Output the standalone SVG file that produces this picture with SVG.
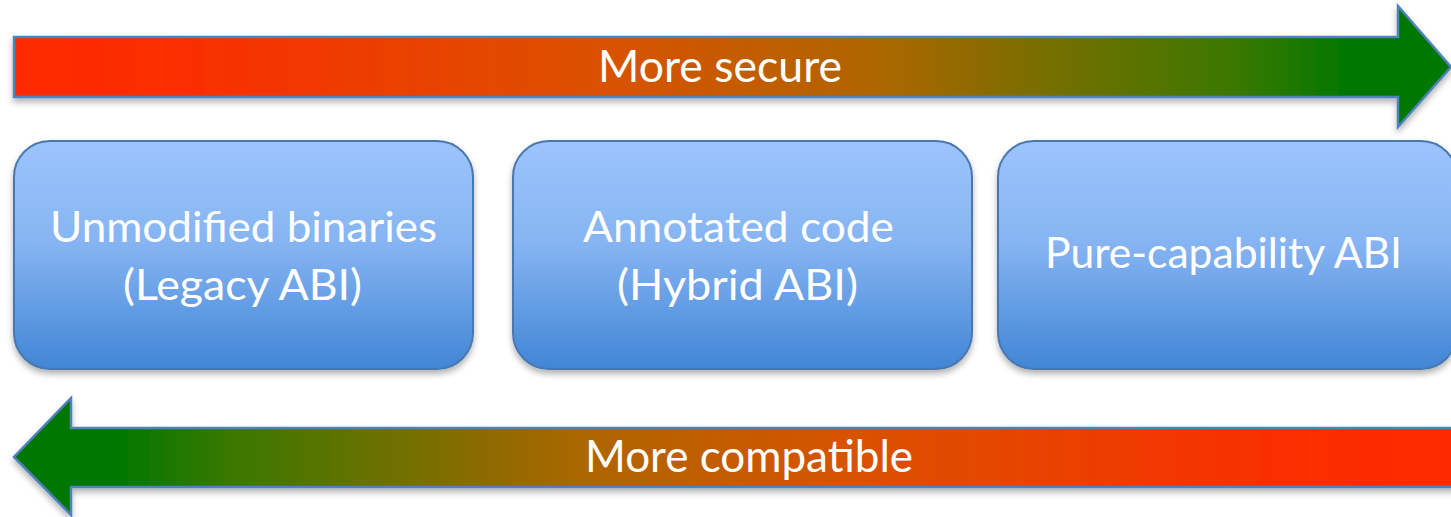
<svg xmlns="http://www.w3.org/2000/svg" width="1451" height="517" viewBox="0 0 1451 517">
<style>
.lbl{font-family:Lato,"Open Sans","Liberation Sans",sans-serif;fill:#ffffff;text-anchor:middle}
.big{font-size:44px}
.box{font-size:42px}
.arrow{stroke:#4F81BD;stroke-width:2.5;stroke-linejoin:miter}
.node rect{fill:url(#boxg);stroke:#4A78B0;stroke-width:2}
</style>
<defs>
<linearGradient id="secg" x1="14" y1="0" x2="1451" y2="0" gradientUnits="userSpaceOnUse">
<stop offset="0" stop-color="#FF2A00"/>
<stop offset="0.12" stop-color="#FA2E00"/>
<stop offset="0.4" stop-color="#DC5000"/>
<stop offset="0.6" stop-color="#AE6600"/>
<stop offset="0.85" stop-color="#3A7800"/>
<stop offset="0.93" stop-color="#007800"/>
<stop offset="1" stop-color="#007800"/>
</linearGradient>
<linearGradient id="compg" x1="1451" y1="0" x2="14" y2="0" gradientUnits="userSpaceOnUse">
<stop offset="0" stop-color="#FF2A00"/>
<stop offset="0.12" stop-color="#FA2E00"/>
<stop offset="0.4" stop-color="#DC5000"/>
<stop offset="0.6" stop-color="#AE6600"/>
<stop offset="0.85" stop-color="#3A7800"/>
<stop offset="0.93" stop-color="#007800"/>
<stop offset="1" stop-color="#007800"/>
</linearGradient>
<linearGradient id="boxg" x1="0" y1="0" x2="0" y2="1">
<stop offset="0" stop-color="#9CC4FC"/>
<stop offset="0.45" stop-color="#86B4F2"/>
<stop offset="1" stop-color="#4186D6"/>
</linearGradient>
<filter id="sh" x="-5%" y="-20%" width="110%" height="150%">
<feDropShadow dx="0" dy="4" stdDeviation="3" flood-color="#000000" flood-opacity="0.3"/>
</filter>
</defs>
<g id="connectors">
<g id="arrow-secure">
<polygon class="arrow" filter="url(#sh)" fill="url(#secg)" points="14,37 1398,37 1398,6 1451,67 1398,127 1398,97 14,97"/>
<text class="lbl big" x="720" y="82" textLength="244" lengthAdjust="spacingAndGlyphs">More secure</text>
</g>
<g id="arrow-compatible">
<polygon class="arrow" filter="url(#sh)" fill="url(#compg)" points="1470,428 71,428 71,398 14,457 71,515 71,487 1470,487"/>
<text class="lbl big" x="749" y="472" textLength="328" lengthAdjust="spacingAndGlyphs">More compatible</text>
</g>
</g>
<g id="node-legacy" class="node">
<rect x="14" y="141" width="459" height="228" rx="36" filter="url(#sh)"/>
<text class="lbl box" x="243.5" y="242" textLength="387" lengthAdjust="spacingAndGlyphs">Unmodified binaries</text>
<text class="lbl box" x="242.5" y="300" textLength="239" lengthAdjust="spacingAndGlyphs">(Legacy ABI)</text>
</g>
<g id="node-hybrid" class="node">
<rect x="513" y="141" width="459" height="228" rx="36" filter="url(#sh)"/>
<text class="lbl box" x="738.5" y="242" textLength="311" lengthAdjust="spacingAndGlyphs">Annotated code</text>
<text class="lbl box" x="737.5" y="300" textLength="241" lengthAdjust="spacingAndGlyphs">(Hybrid ABI)</text>
</g>
<g id="node-pure" class="node">
<rect x="998" y="141" width="459" height="228" rx="36" filter="url(#sh)"/>
<text class="lbl box" x="1223.5" y="268" textLength="357" lengthAdjust="spacingAndGlyphs">Pure-capability ABI</text>
</g>
</svg>
